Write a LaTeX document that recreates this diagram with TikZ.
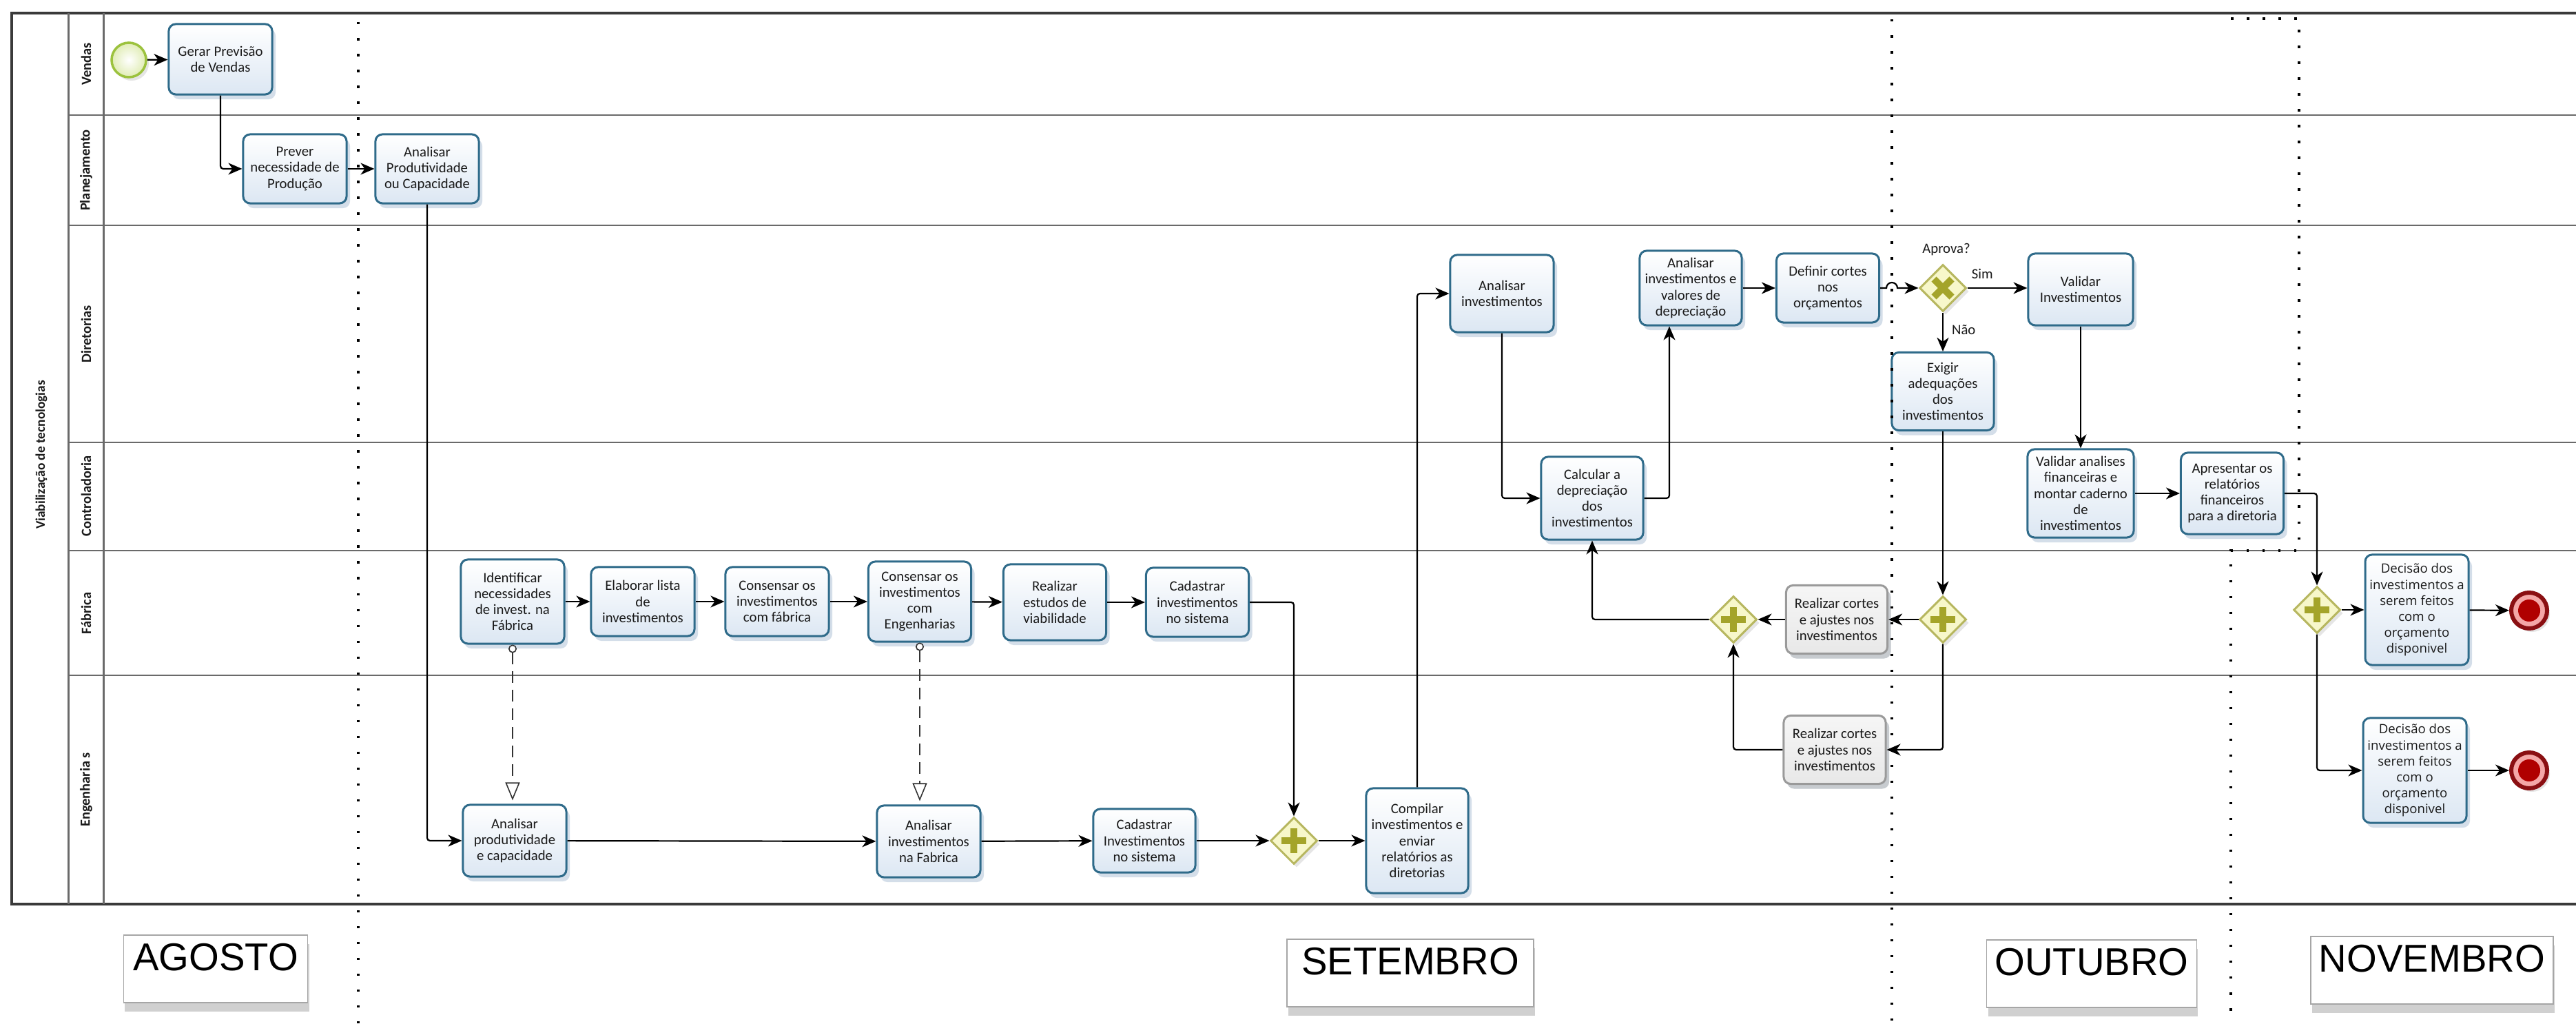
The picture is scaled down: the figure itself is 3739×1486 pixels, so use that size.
\documentclass[tikz,border=0pt]{standalone}
\usepackage{fontspec}
\setmainfont{Carlito}
\newfontfamily\decfont{Open Sans}
\newfontfamily\monthfont{Liberation Sans}
\usetikzlibrary{arrows.meta, shapes.geometric, shadows}

\definecolor{taskline}{HTML}{2F6B8A}
\definecolor{taskfill}{HTML}{DCE7F3}
\definecolor{taskshadow}{HTML}{C2D1E0}
\definecolor{grayline}{HTML}{9A9A9A}
\definecolor{grayfill}{HTML}{E8E8E8}
\definecolor{gwline}{HTML}{B7B760}
\definecolor{gwfill}{HTML}{F7F7CA}
\definecolor{gwmark}{HTML}{A4A42A}
\definecolor{startline}{HTML}{9CC23E}
\definecolor{startfill}{HTML}{F1F7D2}
\definecolor{endring}{HTML}{8A0F12}
\definecolor{endpink}{HTML}{F4A7A7}
\definecolor{endcore}{HTML}{B00000}
\definecolor{laneline}{HTML}{6A6A6A}
\definecolor{poolline}{HTML}{3A3A3A}
\definecolor{txt}{HTML}{1A1A1A}

\begin{document}
\begin{tikzpicture}[x=0.01cm, y=-0.01cm,
  font=\fontsize{5.9pt}{6.6pt}\selectfont,
  task/.style={rectangle, rounded corners=0.1cm, draw=taskline, line width=0.03cm,
    top color=white, bottom color=taskfill, align=center, inner sep=0pt, text=txt,
    drop shadow={shadow xshift=0.05cm, shadow yshift=-0.07cm, fill=taskshadow, opacity=0.7}},
  graytask/.style={task, draw=grayline, top color=white!60!grayfill, bottom color=grayfill,
    drop shadow={shadow xshift=0.05cm, shadow yshift=-0.07cm, fill=black!25, opacity=0.6}},
  dectask/.style={task, font=\decfont\fontsize{5.3pt}{6.6pt}\selectfont},
  gate/.style={diamond, aspect=1, draw=gwline, line width=0.03cm, fill=gwfill,
    minimum width=0.68cm, minimum height=0.68cm, inner sep=0pt,
    drop shadow={shadow xshift=0.04cm, shadow yshift=-0.05cm, fill=black!20, opacity=0.5}},
  plusgate/.style={gate, path picture={
    \draw[gwmark, line width=0.1cm]
      ([yshift=-0.18cm]path picture bounding box.center) -- ([yshift=0.18cm]path picture bounding box.center)
      ([xshift=-0.18cm]path picture bounding box.center) -- ([xshift=0.18cm]path picture bounding box.center);}},
  xgate/.style={gate, path picture={
    \draw[gwmark, line width=0.1cm]
      ([shift={(-0.13cm,-0.13cm)}]path picture bounding box.center) -- ([shift={(0.13cm,0.13cm)}]path picture bounding box.center)
      ([shift={(-0.13cm,0.13cm)}]path picture bounding box.center) -- ([shift={(0.13cm,-0.13cm)}]path picture bounding box.center);}},
  startev/.style={circle, draw=startline, line width=0.035cm, inner color=white, outer color=startfill!80!startline,
    minimum size=0.5cm, inner sep=0pt,
    drop shadow={shadow xshift=0.04cm, shadow yshift=-0.05cm, fill=black!20, opacity=0.5}},
  endev/.style={circle, draw=endring, line width=0.06cm, fill=endpink, minimum size=0.52cm, inner sep=0pt,
    drop shadow={shadow xshift=0.04cm, shadow yshift=-0.05cm, fill=black!20, opacity=0.5},
    path picture={\fill[endcore] (path picture bounding box.center) circle (0.16cm);}},
  flow/.style={draw=black, line width=0.022cm, rounded corners=0.04cm,
    -{Stealth[length=0.2cm, width=0.17cm, inset=0.06cm]}},
  assoc/.style={draw=black!80, line width=0.016cm, dash pattern=on 0.17cm off 0.1cm,
    {Circle[length=0.12cm, fill=white]}-{Triangle[length=0.26cm, width=0.21cm, fill=white]},
    shorten >=0.05cm},
  lbl/.style={text=txt, inner sep=0pt},
  lanelbl/.style={rotate=90, font=\bfseries\fontsize{5.8pt}{6.5pt}\selectfont, text=txt, inner sep=0pt},
  monthbox/.style={rectangle, draw=black!35, line width=0.015cm, fill=white, anchor=north,
    font=\monthfont\fontsize{16pt}{18pt}\selectfont, text=black,
    inner ysep=0pt, text height=0.52cm, text depth=0.46cm,
    drop shadow={shadow xshift=0.02cm, shadow yshift=-0.13cm, fill=black!30, opacity=0.6}},
  monthdiv/.style={draw=black, line width=0.035cm, dash pattern=on 0.035cm off 0.195cm}
]
\useasboundingbox (0,0) rectangle (3739,1486);
\fill[white] (0,0) rectangle (3739,1486);

% pool and lanes
\draw[poolline, line width=0.04cm] (3739,19) -- (17,19) -- (17,1312) -- (3739,1312);
\draw[laneline, line width=0.03cm] (99,19) -- (99,1312) (150,19) -- (150,1312);
\foreach \ly in {167,327,642,799,980}
  \draw[laneline, line width=0.025cm] (99,\ly) -- (3739,\ly);

\node[lanelbl, font=\bfseries\fontsize{5.5pt}{6.5pt}\selectfont] (pool) at (60,660) {Viabilização de tecnologias};
\node[lanelbl] (lvendas) at (125,93) {Vendas};
\node[lanelbl] (lplan) at (125,247) {Planejamento};
\node[lanelbl] (ldir) at (125,485) {Diretorias};
\node[lanelbl] (lcont) at (125,720) {Controladoria};
\node[lanelbl] (lfab) at (125,890) {Fábrica};
\node[lanelbl] (leng) at (125,1146) {Engenharia s};

% Vendas
\node[startev] (start) at (187,87) {};
\node[task, minimum width=1.5cm, minimum height=1.02cm] (gerar) at (320,86) {Gerar Previsão\\de Vendas};

% Planejamento
\node[task, minimum width=1.5cm, minimum height=1.0cm] (prever) at (428,245) {Prever\\necessidade de\\Produção};
\node[task, minimum width=1.5cm, minimum height=1.0cm] (analprod) at (620,245) {Analisar\\Produtividade\\ou Capacidade};

% Diretorias
\node[task, minimum width=1.5cm, minimum height=1.12cm] (analinv) at (2180,426) {Analisar\\investimentos};
\node[task, minimum width=1.48cm, minimum height=1.08cm] (analdep) at (2454,418) {Analisar\\investimentos e\\valores de\\depreciação};
\node[task, minimum width=1.49cm, minimum height=1.0cm] (definir) at (2653,418) {Definir cortes\\nos\\orçamentos};
\node[xgate] (gwx) at (2820,418) {};
\node[task, minimum width=1.52cm, minimum height=1.04cm] (validar) at (3020,420) {Validar\\Investimentos};
\node[task, minimum width=1.48cm, minimum height=1.13cm] (exigir) at (2820,568) {Exigir\\adequações\\dos\\investimentos};
\node[lbl] (aprova) at (2825,362) {Aprova?};

% Controladoria
\node[task, minimum width=1.48cm, minimum height=1.2cm] (calc) at (2311,723) {Calcular a\\depreciação\\dos\\investimentos};
\node[task, minimum width=1.54cm, minimum height=1.28cm] (valan) at (3020,716) {Validar analises\\financeiras e\\montar caderno\\de\\investimentos};
\node[task, minimum width=1.49cm, minimum height=1.18cm] (apres) at (3240,716) {Apresentar os\\relatórios\\financeiros\\para a diretoria};

% Fabrica
\node[task, minimum width=1.5cm, minimum height=1.22cm] (ident) at (744,873) {Identificar\\necessidades\\de invest. na\\Fábrica};
\node[task, minimum width=1.5cm, minimum height=1.0cm] (elab) at (933,873) {Elaborar lista\\de\\investimentos};
\node[task, minimum width=1.5cm, minimum height=1.0cm] (consfab) at (1128,873) {Consensar os\\investimentos\\com fábrica};
\node[task, minimum width=1.49cm, minimum height=1.16cm] (conseng) at (1335,873) {Consensar os\\investimentos\\com\\Engenharias};
\node[task, minimum width=1.49cm, minimum height=1.1cm] (realiz) at (1531,874) {Realizar\\estudos de\\viabilidade};
\node[task, minimum width=1.49cm, minimum height=1.0cm] (cadfab) at (1738,874) {Cadastrar\\investimentos\\no sistema};
\node[plusgate] (gwL) at (2516,899) {};
\node[graytask, minimum width=1.47cm, minimum height=0.99cm] (cortes1) at (2666,899) {Realizar cortes\\e ajustes nos\\investimentos};
\node[plusgate] (gwR) at (2820,899) {};
\node[plusgate] (gwN) at (3363,885) {};
\node[dectask, minimum width=1.5cm, minimum height=1.6cm] (dec1) at (3508,885) {Decisão dos\\investimentos a\\serem feitos\\com o\\orçamento\\disponivel};
\node[endev] (end1) at (3671,886) {};

% Engenharias
\node[task, minimum width=1.5cm, minimum height=1.04cm] (anprodcap) at (747,1220) {Analisar\\produtividade\\e capacidade};
\node[task, minimum width=1.5cm, minimum height=1.04cm] (aninvfab) at (1348,1221) {Analisar\\investimentos\\na Fabrica};
\node[task, minimum width=1.48cm, minimum height=0.92cm] (cadeng) at (1661,1220) {Cadastrar\\Investimentos\\no sistema};
\node[plusgate] (gwE) at (1878,1220) {};
\node[task, minimum width=1.48cm, minimum height=1.52cm] (compilar) at (2057,1220) {Compilar\\investimentos e\\enviar\\relatórios as\\diretorias};
\node[graytask, minimum width=1.48cm, minimum height=0.99cm] (cortes2) at (2663,1088) {Realizar cortes\\e ajustes nos\\investimentos};
\node[dectask, minimum width=1.5cm, minimum height=1.52cm] (dec2) at (3505,1118) {Decisão dos\\investimentos a\\serem feitos\\com o\\orçamento\\disponivel};
\node[endev] (end2) at (3671,1118) {};

% sequence flows
\draw[flow] (start) -- (gerar);
\draw[flow] (gerar.south) |- (prever.west);
\draw[flow] (prever) -- (analprod);
\draw[flow] (analprod.south) |- (anprodcap.west);
\draw[flow] (ident) -- (elab);
\draw[flow] (elab) -- (consfab);
\draw[flow] (consfab) -- (conseng);
\draw[flow] (conseng) -- (realiz);
\draw[flow] (realiz) -- (cadfab);
\draw[flow] (cadfab.east) -| (gwE.north);
\draw[flow] (anprodcap) -- (aninvfab);
\draw[flow] (aninvfab) -- (cadeng);
\draw[flow] (cadeng) -- (gwE);
\draw[flow] (gwE) -- (compilar);
\draw[flow] (compilar.north) |- (analinv.west);
\draw[flow] (analinv.south) |- (calc.west);
\draw[flow] (calc.east) -| ([xshift=-0.31cm]analdep.south);
\draw[flow] (analdep) -- (definir);
\coordinate (hop) at (2738,418);
\draw[flow, rounded corners=0pt] (definir.east) -- (hop) arc[start angle=180, end angle=360, radius=8] -- (gwx.west);
\draw[flow] (gwx) -- node[lbl, pos=0.25, above=0.12cm] (sim) {Sim} (gwx -| validar.west);
\draw[flow] (gwx) -- node[lbl, pos=0.45, right=0.12cm] (nao) {Não} (exigir);
\draw[flow] (validar) -- (valan);
\draw[flow] (valan) -- (apres);
\draw[flow] (apres.east) -| (gwN.north);
\draw[flow] (exigir) -- (gwR);
\draw[flow] (gwR) -- (cortes1);
\draw[flow] (cortes1) -- (gwL);
\draw[flow] (gwR.south) |- (cortes2.east);
\draw[flow] (cortes2.west) -| (gwL.south);
\draw[flow] (gwL.west) -| (calc.south);
\draw[flow] (gwN) -- (dec1);
\draw[flow] (dec1) -- (end1);
\draw[flow] (gwN.south) |- (dec2.west);
\draw[flow] (dec2) -- (end2);

% associations
\draw[assoc] (ident.south) -- (ident.south |- anprodcap.north);
\draw[assoc] (conseng.south) -- (conseng.south |- aninvfab.north);

% month dividers
\draw[monthdiv] (520,32) -- (520,1486);
\draw[monthdiv] (2746,28) -- (2746,1486);
\draw[monthdiv] (3238,27) -- (3337,27) -- (3337,799) -- (3238,799) -- (3238,1486);

% month labels
\node[monthbox, minimum width=2.67cm] (agosto) at (313,1356) {AGOSTO};
\node[monthbox, minimum width=3.58cm] (setembro) at (2047,1362) {SETEMBRO};
\node[monthbox, minimum width=2.97cm] (outubro) at (3036,1363) {OUTUBRO};
\node[monthbox, minimum width=3.29cm] (novembro) at (3530,1358) {NOVEMBRO};
\end{tikzpicture}
\end{document}
